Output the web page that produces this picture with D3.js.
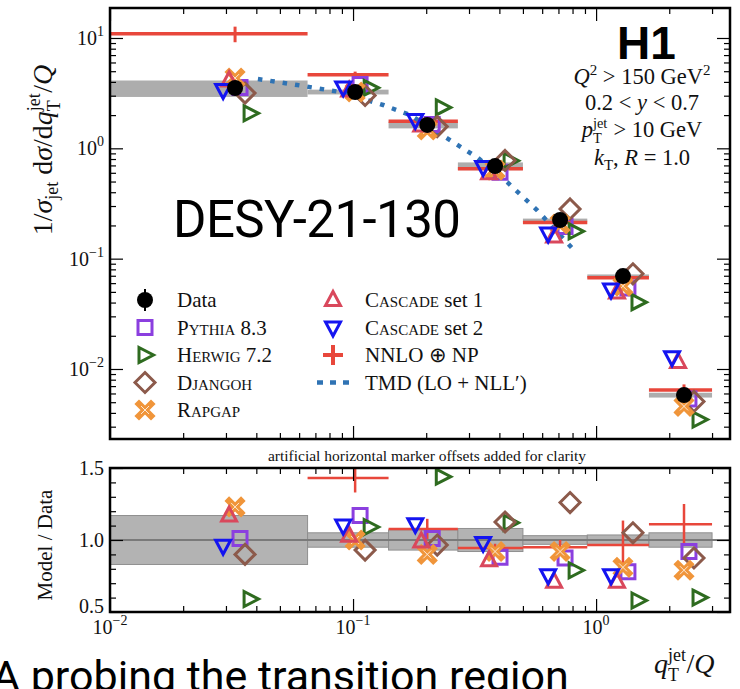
<!DOCTYPE html>
<html lang="en">
<head>
  <meta charset="UTF-8">
  <title>H1 lepton-jet qT/Q</title>
  <style>
    body { margin: 0; background: #fff; }
    svg { display: block; font-family: 'Liberation Serif', serif; }
    .tick line { stroke: #000; stroke-width: 1.2; }
    .tick-label { font-size: 20px; fill: #111; }
    .leg { font-size: 21px; fill: #111; }
    .sc { font-variant: small-caps; }
  </style>
</head>
<body>
  <script src="https://cdnjs.cloudflare.com/ajax/libs/d3/7.8.5/d3.min.js"></script>
  <script>
    // bins in qT/Q (first one starts at the axis edge)
    const binEdges = [0.01, 0.065, 0.14, 0.27, 0.5, 0.92, 1.65, 3.0];
    const binCenters = [0.0327, 0.102, 0.202, 0.384, 0.711, 1.29, 2.30];
    // measured 1/sigma dsigma/d(qT/Q) and relative uncertainty
    const dataVals = [3.52, 3.24, 1.63, 0.69, 0.224, 0.0695, 0.0058];
    const dataUnc = [0.17, 0.05, 0.07, 0.08, 0.03, 0.035, 0.05];

    // model / data ratios
    const pythia = [1.01, 1.17, 1.01, 0.88, 0.875, 0.78, 0.92];
    const herwig = [0.59, 1.09, 1.44, 1.12, 0.79, 0.58, 0.60];
    const djangoh = [0.90, 0.93, 0.965, 1.125, 1.26, 1.05, 0.875];
    const rapgap = [1.23, 1.0, 0.90, 0.92, 0.92, 0.81, 0.79];
    const cascade1 = [1.17, 1.03, 0.99, 0.86, 0.71, 0.71, 2.0];
    const cascade2 = [0.96, 1.10, 1.11, 0.98, 0.755, 0.755, 2.2];
    const nnlo = [3.1, 1.43, 1.077, 0.944, 0.95, 0.965, 1.11];
    const nnloErr = [0.5, 0.1, 0.07, 0.03, 0.05, 0.17, 0.14];

    // TMD (LO + NLL') curve
    const tmdX = [0.0406, 0.0589, 0.0885, 0.133, 0.172, 0.258, 0.327, 0.431, 0.571, 0.796];
    const tmdY = [4.25, 3.75, 3.24, 2.47, 2.0, 1.14, 0.817, 0.494, 0.276, 0.125];

    const xMajor = [0.01, 0.1, 1];
    const yTopMajor = [0.01, 0.1, 1, 10];
    const yRatMajor = [0.5, 1.0, 1.5];
    const yRatLabels = ['0.5', '1.0', '1.5'];

    const series = [
      {name: 'Pythia', rest: ' 8.3', vals: pythia, shape: 'square', color: '#8b3fdf', off: 1.048},
      {name: 'Herwig', rest: ' 7.2', vals: herwig, shape: 'triR', color: '#2e6b1f', off: 1.153},
      {name: 'Djangoh', rest: '', vals: djangoh, shape: 'diamond', color: '#8c5a4b', off: 1.099},
      {name: 'Rapgap', rest: '', vals: rapgap, shape: 'x', color: '#f0953a', off: 1.0},
      {name: 'Cascade', rest: ' set 1', vals: cascade1, shape: 'triU', color: '#d9485c', off: 0.945},
      {name: 'Cascade', rest: ' set 2', vals: cascade2, shape: 'triD', color: '#1414f0', off: 0.893}
    ];
    const NNLO_COLOR = '#e8473b';
    const TMD_COLOR = '#2f73b4';

    const W = 740, H = 689;
    const L = 110, R = 730;
    const topY0 = 8, topY1 = 439, ratY0 = 468, ratY1 = 612;

    const svg = d3.select('body').append('svg').attr('width', W).attr('height', H);

    const x = d3.scaleLog().domain([0.01, 3.556]).range([L, R]);
    const yTop = d3.scaleLog().domain([0.00232, 18.7]).range([topY1, topY0]);
    const yRat = d3.scaleLinear().domain([0.5, 1.5]).range([ratY1, ratY0]);

    function minorLog(lo, hi) {
      const out = [];
      for (let e = -4; e <= 2; e++) {
        for (let k = 2; k <= 9; k++) {
          const v = k * Math.pow(10, e);
          if (v > lo && v < hi) out.push(v);
        }
      }
      return out;
    }
    const xMinor = minorLog(0.01, 3.556);

    const defs = svg.append('defs');
    defs.append('clipPath').attr('id', 'clipTop').append('rect')
      .attr('x', L).attr('y', topY0).attr('width', R - L).attr('height', topY1 - topY0);
    defs.append('clipPath').attr('id', 'clipRat').append('rect')
      .attr('x', L).attr('y', ratY0).attr('width', R - L).attr('height', ratY1 - ratY0);

    function markerPath(shape) {
      switch (shape) {
        case 'square': return 'M-7,-7H7V7H-7Z';
        case 'triR': return 'M-6,-7.5L8.5,0L-6,7.5Z';
        case 'triU': return 'M0,-8.5L7.5,5.5L-7.5,5.5Z';
        case 'triD': return 'M-7.5,-5.5L7.5,-5.5L0,8.5Z';
        case 'diamond': return 'M0,-10L10,0L0,10L-10,0Z';
      }
    }

    function drawMarker(g, shape, color, cx, cy) {
      const m = g.append('g').attr('transform', `translate(${cx},${cy})`);
      if (shape === 'x') {
        m.append('path').attr('d', 'M-6,-6L6,6M-6,6L6,-6')
          .attr('stroke', color).attr('stroke-width', 6.5).attr('stroke-linecap', 'square');
        m.append('path').attr('d', 'M-4,-4L4,4M-4,4L4,-4')
          .attr('stroke', '#fff').attr('stroke-width', 1).attr('opacity', 0.8);
      } else {
        m.append('path').attr('d', markerPath(shape))
          .attr('fill', 'none').attr('stroke', color).attr('stroke-width', 3)
          .attr('stroke-linejoin', 'miter');
      }
    }

    function powLabel(g, px, py, exp, anchor) {
      const t = g.append('text').attr('class', 'tick-label')
        .attr('x', px).attr('y', py).attr('text-anchor', anchor);
      t.append('tspan').text('10');
      t.append('tspan').attr('dy', -9).attr('font-size', 14).text(exp);
    }

    function expOf(v) {
      const e = Math.round(Math.log10(v));
      return e < 0 ? '\u2212' + (-e) : String(e);
    }

    // letter with stacked "jet" superscript and "T" subscript, then the following text
    function jetT(t, letter, fs, after) {
      const s = fs * 0.64;
      t.append('tspan').attr('font-style', 'italic').text(letter);
      t.append('tspan').attr('dy', -fs * 0.42).attr('font-size', s).text('jet');
      t.append('tspan').attr('dx', -s * 1.0).attr('dy', fs * 0.7).attr('font-size', s).text('T');
      t.append('tspan').attr('dx', s * 0.42).attr('dy', -fs * 0.28).text(after);
    }

    // ticks on all four sides, pointing in
    function drawFrame(y0, y1, yScale, yMaj, yMin) {
      const g = svg.append('g');
      const sides = [
        [d3.axisBottom, `translate(0,${y1})`, x, true],
        [d3.axisTop, `translate(0,${y0})`, x, true],
        [d3.axisLeft, `translate(${L},0)`, yScale, false],
        [d3.axisRight, `translate(${R},0)`, yScale, false]
      ];
      sides.forEach(([fn, tr, sc, isX]) => {
        g.append('g').attr('transform', tr)
          .call(fn(sc).tickValues(isX ? xMinor : yMin).tickSize(-6).tickFormat(''))
          .call(a => a.select('.domain').remove());
        g.append('g').attr('transform', tr)
          .call(fn(sc).tickValues(isX ? xMajor : yMaj).tickSize(-13).tickFormat(''))
          .call(a => a.select('.domain').remove());
      });
      g.append('rect').attr('x', L).attr('y', y0).attr('width', R - L).attr('height', y1 - y0)
        .attr('fill', 'none').attr('stroke', '#000').attr('stroke-width', 2.5);
    }

    const bins = binCenters.map((c, i) => ({
      i, c, lo: binEdges[i], hi: binEdges[i + 1], v: dataVals[i], u: dataUnc[i]
    }));

    // ---------- top panel ----------
    const topG = svg.append('g').attr('clip-path', 'url(#clipTop)');

    topG.selectAll('rect.band').data(bins).enter().append('rect')
      .attr('x', d => x(d.lo)).attr('width', d => x(d.hi) - x(d.lo))
      .attr('y', d => yTop(d.v * (1 + d.u)))
      .attr('height', d => yTop(d.v * (1 - d.u)) - yTop(d.v * (1 + d.u)))
      .attr('fill', '#adadad');

    topG.selectAll('line.nh').data(bins).enter().append('line')
      .attr('x1', d => x(d.lo)).attr('x2', d => x(d.hi))
      .attr('y1', d => yTop(d.v * nnlo[d.i])).attr('y2', d => yTop(d.v * nnlo[d.i]))
      .attr('stroke', NNLO_COLOR).attr('stroke-width', 3.5);
    topG.selectAll('line.nv').data(bins).enter().append('line')
      .attr('x1', d => x(d.c)).attr('x2', d => x(d.c))
      .attr('y1', d => yTop(d.v * (nnlo[d.i] + nnloErr[d.i])))
      .attr('y2', d => yTop(d.v * (nnlo[d.i] - nnloErr[d.i])))
      .attr('stroke', NNLO_COLOR).attr('stroke-width', 3);

    const tmdLine = d3.line().x(d => x(d[0])).y(d => yTop(d[1]));
    topG.append('path').datum(tmdX.map((v, i) => [v, tmdY[i]]))
      .attr('d', tmdLine).attr('fill', 'none')
      .attr('stroke', TMD_COLOR).attr('stroke-width', 4.5).attr('stroke-dasharray', '4.5,8');

    series.forEach(s => {
      bins.forEach(b => drawMarker(topG, s.shape, s.color, x(b.c * s.off), yTop(b.v * s.vals[b.i])));
    });

    topG.selectAll('circle.data').data(bins).enter().append('circle')
      .attr('cx', d => x(d.c)).attr('cy', d => yTop(d.v)).attr('r', 8).attr('fill', '#000');

    drawFrame(topY0, topY1, yTop, yTopMajor, minorLog(0.00232, 18.7));

    const labels = svg.append('g');
    yTopMajor.forEach(v => powLabel(labels, 104, yTop(v) + 7, expOf(v), 'end'));

    // ---------- ratio panel ----------
    const ratG = svg.append('g').attr('clip-path', 'url(#clipRat)');
    ratG.selectAll('rect.band').data(bins).enter().append('rect')
      .attr('x', d => x(d.lo)).attr('width', d => x(d.hi) - x(d.lo))
      .attr('y', d => yRat(1 + d.u)).attr('height', d => yRat(1 - d.u) - yRat(1 + d.u))
      .attr('fill', '#b3b3b3').attr('stroke', '#8f8f8f').attr('stroke-width', 1);
    ratG.append('line').attr('x1', L).attr('x2', R).attr('y1', yRat(1)).attr('y2', yRat(1))
      .attr('stroke', '#7a7a7a').attr('stroke-width', 2);

    ratG.selectAll('line.nh').data(bins).enter().append('line')
      .attr('x1', d => x(d.lo)).attr('x2', d => x(d.hi))
      .attr('y1', d => yRat(nnlo[d.i])).attr('y2', d => yRat(nnlo[d.i]))
      .attr('stroke', NNLO_COLOR).attr('stroke-width', 2.5);
    ratG.selectAll('line.nv').data(bins).enter().append('line')
      .attr('x1', d => x(d.c)).attr('x2', d => x(d.c))
      .attr('y1', d => yRat(nnlo[d.i] + nnloErr[d.i])).attr('y2', d => yRat(nnlo[d.i] - nnloErr[d.i]))
      .attr('stroke', NNLO_COLOR).attr('stroke-width', 2.5);

    series.forEach(s => {
      bins.forEach(b => drawMarker(ratG, s.shape, s.color, x(b.c * s.off), yRat(s.vals[b.i])));
    });

    drawFrame(ratY0, ratY1, yRat, yRatMajor, [0.6, 0.7, 0.8, 0.9, 1.1, 1.2, 1.3, 1.4]);

    yRatMajor.forEach((v, i) => {
      labels.append('text').attr('class', 'tick-label')
        .attr('x', 104).attr('y', yRat(v) + 7 - (v === 0.5 ? 6 : 0)).attr('text-anchor', 'end')
        .text(yRatLabels[i]);
    });
    xMajor.forEach(v => powLabel(labels, x(v), 634, expOf(v), 'middle'));

    // ---------- axis titles ----------
    const yt = svg.append('text').attr('transform', 'translate(52,150) rotate(-90)')
      .attr('text-anchor', 'middle').attr('font-size', 28).attr('fill', '#111');
    yt.append('tspan').text('1/');
    yt.append('tspan').attr('font-style', 'italic').text('\u03c3');
    yt.append('tspan').attr('dy', 6).attr('font-size', 18).text('jet');
    yt.append('tspan').attr('dy', -6).text(' d');
    yt.append('tspan').attr('font-style', 'italic').text('\u03c3');
    yt.append('tspan').text('/d');
    jetT(yt, 'q', 28, '/');
    yt.append('tspan').attr('font-style', 'italic').text('Q');

    svg.append('text').attr('transform', 'translate(52,545) rotate(-90)')
      .attr('text-anchor', 'middle').attr('font-size', 21).attr('fill', '#111')
      .text('Model / Data');

    const xt = svg.append('text').attr('x', 654).attr('y', 673).attr('font-size', 28).attr('fill', '#111');
    jetT(xt, 'q', 28, '/');
    xt.append('tspan').attr('font-style', 'italic').text('Q');

    svg.append('text').attr('x', 427).attr('y', 461).attr('text-anchor', 'middle')
      .attr('font-size', 15.5).attr('fill', '#111')
      .text('artificial horizontal marker offsets added for clarity');

    // ---------- annotations ----------
    svg.append('text').attr('x', 617).attr('y', 59)
      .attr('font-family', 'Liberation Sans, sans-serif').attr('font-weight', 'bold')
      .attr('font-size', 46).attr('fill', '#000').text('H1');

    const ann = svg.append('g').attr('font-size', 22.5).attr('fill', '#111').attr('text-anchor', 'middle');
    const a1 = ann.append('text').attr('x', 642).attr('y', 84);
    a1.append('tspan').attr('font-style', 'italic').text('Q');
    a1.append('tspan').attr('dy', -9).attr('font-size', 15).text('2');
    a1.append('tspan').attr('dy', 9).text(' > 150 GeV');
    a1.append('tspan').attr('dy', -9).attr('font-size', 15).text('2');
    const a2 = ann.append('text').attr('x', 642).attr('y', 110);
    a2.append('tspan').text('0.2 < ');
    a2.append('tspan').attr('font-style', 'italic').text('y');
    a2.append('tspan').text(' < 0.7');
    const a3 = ann.append('text').attr('x', 642).attr('y', 137);
    jetT(a3, 'p', 22.5, ' > 10 GeV');
    const a4 = ann.append('text').attr('x', 642).attr('y', 165);
    a4.append('tspan').attr('font-style', 'italic').text('k');
    a4.append('tspan').attr('dy', 5).attr('font-size', 15).text('T');
    a4.append('tspan').attr('dy', -5).text(', ');
    a4.append('tspan').attr('font-style', 'italic').text('R');
    a4.append('tspan').text(' = 1.0');

    svg.append('text').attr('x', 173).attr('y', 237)
      .attr('font-family', 'Roboto, sans-serif').attr('font-size', 51)
      .attr('textLength', 288).attr('fill', '#000').text('DESY-21-130');

    svg.append('text').attr('x', -8).attr('y', 691)
      .attr('font-family', 'Roboto, sans-serif').attr('font-size', 43)
      .attr('fill', '#000').text('A probing the transition region');

    // ---------- legend ----------
    const leg = svg.append('g');
    const rowY = [300, 327.5, 355, 382.5, 410];
    const c1 = 145, t1 = 177, c2 = 333, t2 = 365;

    leg.append('line').attr('x1', c1).attr('x2', c1).attr('y1', rowY[0] - 11).attr('y2', rowY[0] + 11)
      .attr('stroke', '#000').attr('stroke-width', 2);
    leg.append('circle').attr('cx', c1).attr('cy', rowY[0]).attr('r', 8).attr('fill', '#000');
    leg.append('text').attr('class', 'leg').attr('x', t1).attr('y', rowY[0] + 7).text('Data');

    series.forEach((s, i) => {
      const col = i < 4 ? 0 : 1;
      const row = i < 4 ? i + 1 : i - 4;
      const cx = col ? c2 : c1, tx = col ? t2 : t1;
      drawMarker(leg, s.shape, s.color, cx, rowY[row]);
      const t = leg.append('text').attr('class', 'leg').attr('x', tx).attr('y', rowY[row] + 7);
      t.append('tspan').attr('class', 'sc').text(s.name);
      if (s.rest) t.append('tspan').text(s.rest);
    });

    leg.append('path').attr('d', `M${c2 - 10},${rowY[2]}H${c2 + 10}M${c2},${rowY[2] - 10}V${rowY[2] + 10}`)
      .attr('stroke', NNLO_COLOR).attr('stroke-width', 4);
    leg.append('text').attr('class', 'leg').attr('x', t2).attr('y', rowY[2] + 7).text('NNLO \u2295 NP');

    leg.append('line').attr('x1', c2 - 16).attr('x2', c2 + 18).attr('y1', rowY[3]).attr('y2', rowY[3])
      .attr('stroke', TMD_COLOR).attr('stroke-width', 4.5).attr('stroke-dasharray', '6,7');
    leg.append('text').attr('class', 'leg').attr('x', t2).attr('y', rowY[3] + 7).text('TMD (LO + NLL\u2032)');
  </script>
</body>
</html>
